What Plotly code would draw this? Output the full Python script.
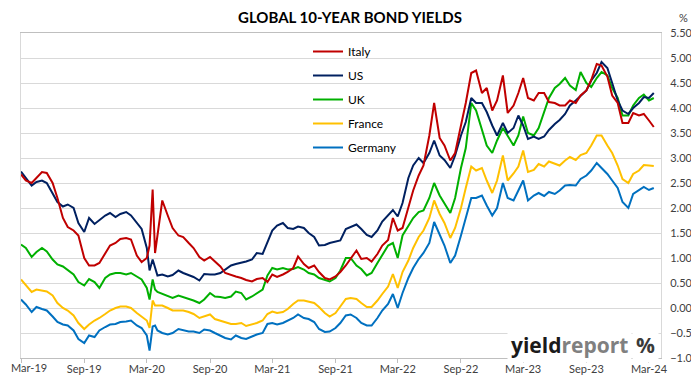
import plotly.graph_objects as go

# ---------------- data (semi-monthly readings, %) ----------------
dates_2019 = ["2019-03-01", "2019-03-15", "2019-04-01", "2019-04-15", "2019-05-01", "2019-05-15",
              "2019-06-01", "2019-06-15", "2019-07-01", "2019-07-15", "2019-08-01", "2019-08-15",
              "2019-09-01", "2019-09-15", "2019-10-01", "2019-10-15", "2019-11-01", "2019-11-15",
              "2019-12-01", "2019-12-15"]
dates_2020 = ["2020-01-01", "2020-01-15", "2020-02-01", "2020-02-15", "2020-03-01", "2020-03-09",
              "2020-03-18", "2020-03-25", "2020-04-01", "2020-04-15", "2020-05-01", "2020-05-15",
              "2020-06-01", "2020-06-15", "2020-07-01", "2020-07-15", "2020-08-01", "2020-08-15",
              "2020-09-01", "2020-09-15", "2020-10-01", "2020-10-15", "2020-11-01", "2020-11-15",
              "2020-12-01", "2020-12-15"]
dates_2021 = ["2021-01-01", "2021-01-15", "2021-02-01", "2021-02-15", "2021-03-01", "2021-03-15",
              "2021-04-01", "2021-04-15", "2021-05-01", "2021-05-15", "2021-06-01", "2021-06-15",
              "2021-07-01", "2021-07-15", "2021-08-01", "2021-08-15", "2021-09-01", "2021-09-15",
              "2021-10-01", "2021-10-15", "2021-11-01", "2021-11-15", "2021-12-01", "2021-12-15"]
dates_2022 = ["2022-01-01", "2022-01-15", "2022-02-01", "2022-02-15", "2022-03-01", "2022-03-15",
              "2022-04-01", "2022-04-15", "2022-05-01", "2022-05-15", "2022-06-01", "2022-06-15",
              "2022-07-01", "2022-07-15", "2022-08-01", "2022-08-15", "2022-09-01", "2022-09-15",
              "2022-10-01", "2022-10-15", "2022-11-01", "2022-11-15", "2022-12-01", "2022-12-15"]
dates_2023 = ["2023-01-01", "2023-01-15", "2023-02-01", "2023-02-15", "2023-03-01", "2023-03-15",
              "2023-04-01", "2023-04-15", "2023-05-01", "2023-05-15", "2023-06-01", "2023-06-15",
              "2023-07-01", "2023-07-15", "2023-08-01", "2023-08-15", "2023-09-01", "2023-09-15",
              "2023-10-01", "2023-10-15", "2023-11-01", "2023-11-15", "2023-12-01", "2023-12-15"]
dates_2024 = ["2024-01-01", "2024-01-15", "2024-02-01", "2024-02-15", "2024-03-01", "2024-03-15"]

italy = [2.67, 2.55, 2.50, 2.60, 2.72, 2.70, 2.50, 2.20, 1.80, 1.62, 1.55, 1.45, 1.00, 0.85, 0.85, 0.90, 1.10, 1.25, 1.30, 1.38,
         1.40, 1.37, 1.05, 0.92, 1.00, 1.25, 2.37, 1.10, 1.45, 2.15, 1.85, 1.60, 1.45, 1.42, 1.30, 1.20, 1.02, 0.95, 1.02, 0.93, 0.83, 0.70, 0.67, 0.63, 0.60, 0.56,
         0.53, 0.58, 0.60, 0.52, 0.67, 0.62, 0.67, 0.72, 0.80, 1.03, 0.88, 0.80, 0.85, 0.72, 0.60, 0.57, 0.63, 0.72, 0.85, 0.98, 1.15, 0.98, 1.00, 0.93,
         1.08, 1.25, 1.36, 1.80, 1.55, 1.60, 2.00, 2.35, 2.65, 2.85, 3.45, 4.10, 3.40, 3.25, 2.95, 3.10, 3.65, 4.10, 4.70, 4.75, 4.30, 4.40, 3.95, 4.15,
         4.65, 3.90, 4.05, 4.30, 4.60, 4.20, 4.15, 4.30, 4.30, 4.12, 4.10, 4.05, 4.05, 4.15, 4.10, 4.25, 4.35, 4.56, 4.88, 4.85, 4.63, 4.25, 4.10, 3.70,
         3.70, 3.90, 3.85, 3.88, 3.75, 3.62]
us = [2.73, 2.60, 2.45, 2.52, 2.55, 2.50, 2.30, 2.12, 2.03, 2.07, 2.00, 1.70, 1.52, 1.80, 1.68, 1.75, 1.85, 1.90, 1.82, 1.88,
      1.92, 1.85, 1.70, 1.58, 1.20, 0.75, 0.97, 0.82, 0.65, 0.67, 0.63, 0.66, 0.75, 0.70, 0.66, 0.62, 0.55, 0.68, 0.67, 0.67, 0.70, 0.76, 0.85, 0.88, 0.90, 0.93,
      0.97, 1.10, 1.08, 1.30, 1.55, 1.65, 1.70, 1.60, 1.58, 1.63, 1.60, 1.50, 1.42, 1.25, 1.26, 1.30, 1.32, 1.35, 1.58, 1.62, 1.67, 1.58, 1.46, 1.42,
      1.55, 1.73, 1.86, 1.96, 1.83, 2.10, 2.60, 2.85, 3.00, 2.90, 3.10, 3.35, 3.05, 2.96, 2.80, 3.05, 3.45, 3.72, 4.20, 4.10, 4.10, 3.92, 3.65, 3.45,
      3.70, 3.50, 3.60, 3.85, 3.65, 3.38, 3.43, 3.38, 3.43, 3.56, 3.68, 3.76, 3.88, 4.05, 4.15, 4.25, 4.35, 4.55, 4.70, 4.92, 4.80, 4.50, 4.15, 3.95,
      3.88, 4.00, 4.10, 4.22, 4.20, 4.30]
uk = [1.27, 1.20, 1.02, 1.12, 1.20, 1.13, 0.97, 0.87, 0.83, 0.75, 0.67, 0.52, 0.45, 0.58, 0.52, 0.40, 0.60, 0.67, 0.70, 0.70,
      0.67, 0.70, 0.63, 0.57, 0.40, 0.17, 0.57, 0.37, 0.32, 0.28, 0.23, 0.20, 0.25, 0.22, 0.18, 0.15, 0.10, 0.17, 0.30, 0.23, 0.22, 0.20, 0.23, 0.33, 0.30, 0.17,
      0.23, 0.30, 0.37, 0.65, 0.80, 0.77, 0.80, 0.77, 0.78, 0.82, 0.77, 0.70, 0.67, 0.60, 0.57, 0.53, 0.60, 0.75, 1.00, 1.00, 0.85, 0.78, 0.65, 0.70,
      0.90, 1.05, 1.25, 1.30, 1.00, 1.45, 1.65, 1.80, 1.92, 1.95, 2.20, 2.50, 2.25, 2.10, 1.90, 2.20, 2.80, 3.20, 4.10, 3.95, 3.55, 3.25, 3.10, 3.35,
      3.60, 3.45, 3.25, 3.45, 3.83, 3.50, 3.45, 3.60, 3.93, 4.20, 4.40, 4.48, 4.60, 4.45, 4.36, 4.72, 4.50, 4.42, 4.60, 4.72, 4.65, 4.40, 4.20, 3.85,
      3.85, 4.05, 4.20, 4.27, 4.15, 4.20]
france = [0.57, 0.45, 0.32, 0.37, 0.35, 0.33, 0.25, 0.10, 0.00, -0.05, -0.15, -0.30, -0.42, -0.33, -0.25, -0.20, -0.12, -0.05, 0.00, 0.03,
          0.03, 0.00, -0.10, -0.18, -0.25, -0.40, 0.15, 0.05, 0.05, 0.05, 0.00, -0.05, -0.05, -0.05, -0.08, -0.12, -0.20, -0.17, -0.13, -0.22, -0.25, -0.28, -0.32, -0.32, -0.30, -0.36,
          -0.33, -0.30, -0.25, -0.12, -0.07, -0.10, -0.08, -0.02, 0.08, 0.15, 0.15, 0.13, 0.10, 0.02, -0.10, -0.17, -0.10, 0.03, 0.18, 0.20, 0.18, 0.10, 0.02, 0.02,
          0.15, 0.28, 0.43, 0.68, 0.40, 0.72, 0.95, 1.20, 1.42, 1.55, 1.80, 2.15, 1.88, 1.70, 1.40, 1.60, 2.00, 2.40, 2.83, 2.75, 2.80, 2.55, 2.30, 2.55,
          3.05, 2.55, 2.69, 2.83, 3.15, 2.72, 2.76, 2.88, 2.83, 2.93, 2.89, 2.85, 2.95, 3.02, 2.96, 3.06, 3.10, 3.25, 3.45, 3.45, 3.25, 3.10, 2.85, 2.58,
          2.50, 2.68, 2.75, 2.86, 2.85, 2.84]
germany = [0.17, 0.07, -0.08, 0.02, -0.02, -0.05, -0.17, -0.28, -0.33, -0.35, -0.45, -0.62, -0.70, -0.55, -0.58, -0.45, -0.38, -0.33, -0.32, -0.28,
           -0.27, -0.25, -0.35, -0.40, -0.55, -0.85, -0.37, -0.35, -0.45, -0.50, -0.53, -0.50, -0.42, -0.45, -0.47, -0.47, -0.50, -0.43, -0.45, -0.50, -0.55, -0.60, -0.63, -0.55, -0.60, -0.62,
           -0.57, -0.53, -0.50, -0.32, -0.30, -0.33, -0.30, -0.25, -0.20, -0.13, -0.20, -0.22, -0.28, -0.42, -0.48, -0.47, -0.40, -0.30, -0.15, -0.13, -0.20, -0.30, -0.35, -0.35,
           -0.20, -0.05, 0.08, 0.28, 0.00, 0.30, 0.60, 0.80, 0.98, 1.10, 1.30, 1.72, 1.45, 1.25, 0.90, 1.05, 1.45, 1.80, 2.20, 2.20, 2.25, 2.05, 1.85, 2.00,
           2.50, 2.20, 2.15, 2.35, 2.55, 2.15, 2.25, 2.30, 2.24, 2.32, 2.28, 2.35, 2.45, 2.46, 2.45, 2.58, 2.65, 2.75, 2.90, 2.80, 2.68, 2.55, 2.40, 2.12,
           2.00, 2.28, 2.35, 2.42, 2.36, 2.40]

tick_dates = ["2019-03-01", "2019-09-01", "2020-03-01", "2020-09-01", "2021-03-01", "2021-09-01",
              "2022-03-01", "2022-09-01", "2023-03-01", "2023-09-01", "2024-03-01"]
tick_labels = ["Mar-19", "Sep-19", "Mar-20", "Sep-20", "Mar-21", "Sep-21",
               "Mar-22", "Sep-22", "Mar-23", "Sep-23", "Mar-24"]
series_names = ["Italy", "US", "UK", "France", "Germany"]
# ------------------------------------------------------------------

dates = dates_2019 + dates_2020 + dates_2021 + dates_2022 + dates_2023 + dates_2024
series_values = [italy, us, uk, france, germany]
colors = ["#C00000", "#002060", "#00B000", "#FFC000", "#0070C0"]

FONT = "Lato"
fig = go.Figure()
for name, vals, col in list(zip(series_names, series_values, colors))[::-1]:
    fig.add_trace(go.Scatter(x=dates, y=vals, name=name, mode="lines",
                             line=dict(color=col, width=2), legendgroup=name,
                             legendrank=series_names.index(name)))

# page body has an 8px margin: figure is sized/positioned to compensate
OFF = 8
W, H = 699 - OFF, 384 - OFF
L, R, T, B = 21 - OFF, 38, 33 - OFF, 26
PW, PH = W - L - R, H - T - B


def px(xw):
    return (xw - OFF - L) / PW


def py(yw):
    return (H - B - (yw - OFF)) / PH


# the first label sits at the very left page edge; it is placed as an
# annotation kept inside the page instead of a centred tick label
shown_tick_labels = [""] + tick_labels[1:]

fig.update_layout(
    width=W, height=H,
    margin=dict(l=L, r=R, t=T, b=B, autoexpand=False),
    paper_bgcolor="white", plot_bgcolor="white",
    font=dict(family=FONT, size=11, color="#404040"),
    title=dict(text="<b>GLOBAL 10-YEAR BOND YIELDS</b>", x=(350 - OFF) / W, xref="container",
               y=1 - (18 - OFF) / H, yref="container", xanchor="center", yanchor="middle",
               font=dict(family=FONT, size=15, color="#000000")),
    showlegend=True,
    legend=dict(x=px(308), y=py(37), xanchor="left", yanchor="top",
                bgcolor="rgba(0,0,0,0)", font=dict(family=FONT, size=12, color="#000000"),
                traceorder="grouped", tracegroupgap=5, itemwidth=30),
    xaxis=dict(type="date", range=["2019-03-01", "2024-04-05"], automargin=False,
               tickvals=tick_dates, ticktext=shown_tick_labels, ticklabeloverflow="allow",
               ticks="outside", ticklen=4, tickcolor="#BFBFBF", ticklabelstandoff=-3,
               showgrid=False, showline=True, linecolor="#BFBFBF", linewidth=1,
               mirror=True, zeroline=False, tickfont=dict(size=11, color="#404040")),
    yaxis=dict(side="right", range=[-1, 5.5], dtick=0.5, tick0=0, tickformat=".2f",
               automargin=False, ticklabeloverflow="allow",
               showgrid=True, gridcolor="#D9D9D9", gridwidth=1,
               showline=True, linecolor="#D9D9D9", mirror=True, zeroline=False,
               ticks="", ticklabelstandoff=6, tickfont=dict(size=11, color="#404040")),
)

fig.add_annotation(text=tick_labels[0], xref="paper", yref="paper", x=px(OFF + 1), y=py(367),
                   xanchor="left", yanchor="middle", showarrow=False,
                   font=dict(family=FONT, size=11, color="#404040"))

fig.add_annotation(text="%", xref="paper", yref="paper", x=px(683), y=py(OFF + 1),
                   xanchor="center", yanchor="top", showarrow=False,
                   font=dict(family=FONT, size=11, color="#404040"))

# logo
fig.add_annotation(text="<b>yield</b><b><span style='color:#808080'>report</span></b>",
                   xref="paper", yref="paper", x=px(632), y=py(345),
                   xanchor="right", yanchor="middle",
                   showarrow=False, bgcolor="white", borderpad=3,
                   font=dict(family="Open Sans", size=21, color="#1A1A1A"))
fig.add_annotation(text="<b>%</b>", xref="paper", yref="paper", x=px(645), y=py(345),
                   xanchor="center", yanchor="middle", showarrow=False, bgcolor="white", borderpad=3,
                   font=dict(family="Open Sans", size=21, color="#3A3A3A"))

fig.write_html("out.html")
